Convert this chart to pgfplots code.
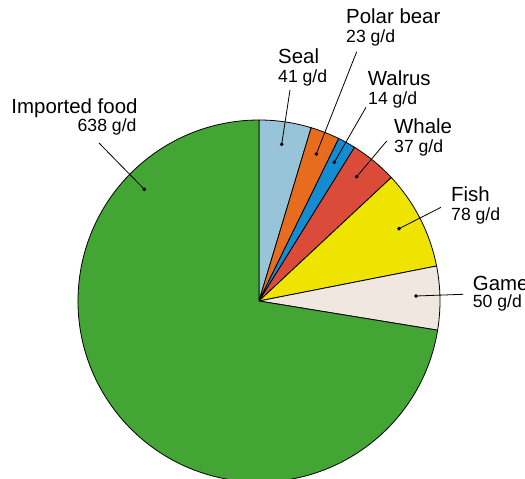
\documentclass[border=0pt]{standalone}
\usepackage{pgfplots}
\pgfplotsset{compat=1.18}
\usepackage{fontspec}
\setmainfont{Liberation Sans}

\definecolor{cseal}{HTML}{98C4DA}
\definecolor{cpolar}{HTML}{E86C1E}
\definecolor{cwalrus}{HTML}{148CD2}
\definecolor{cwhale}{HTML}{DA4B3A}
\definecolor{cfish}{HTML}{EEE400}
\definecolor{cgame}{HTML}{F0E8E0}
\definecolor{cimport}{HTML}{43A634}

% daily intake, g/d
\def\vSeal{41}
\def\vPolar{23}
\def\vWalrus{14}
\def\vWhale{37}
\def\vFish{78}
\def\vGame{50}
\def\vImport{638}

\pgfmathsetmacro{\tot}{\vSeal+\vPolar+\vWalrus+\vWhale+\vFish+\vGame+\vImport}
\pgfmathsetmacro{\aA}{90}
\pgfmathsetmacro{\aB}{\aA-\vSeal/\tot*360}
\pgfmathsetmacro{\aC}{\aB-\vPolar/\tot*360}
\pgfmathsetmacro{\aD}{\aC-\vWalrus/\tot*360}
\pgfmathsetmacro{\aE}{\aD-\vWhale/\tot*360}
\pgfmathsetmacro{\aF}{\aE-\vFish/\tot*360}
\pgfmathsetmacro{\aG}{\aF-\vGame/\tot*360}
\pgfmathsetmacro{\aH}{\aG-\vImport/\tot*360}
\def\R{181bp}

\newcommand{\namefont}{\fontsize{20.5}{21}\selectfont}
\newcommand{\valfont}{\fontsize{17.7}{18}\selectfont}

\begin{document}
\begin{tikzpicture}
\useasboundingbox (0,0) rectangle (525bp,479bp);
\clip (0,0) rectangle (525bp,479bp);
\begin{axis}[
  anchor=south west, at={(0,0)},
  x=1bp, y=1bp,
  xmin=-259, xmax=266,
  ymin=-178, ymax=301,
  hide axis,
  ]
  \filldraw[fill=cseal, draw=black, line width=0.8bp] (axis cs:0,0) -- ++(\aA:\R) arc[start angle=\aA, end angle=\aB, radius=\R] -- cycle;
  \filldraw[fill=cpolar, draw=black, line width=0.8bp] (axis cs:0,0) -- ++(\aB:\R) arc[start angle=\aB, end angle=\aC, radius=\R] -- cycle;
  \filldraw[fill=cwalrus, draw=black, line width=0.8bp] (axis cs:0,0) -- ++(\aC:\R) arc[start angle=\aC, end angle=\aD, radius=\R] -- cycle;
  \filldraw[fill=cwhale, draw=black, line width=0.8bp] (axis cs:0,0) -- ++(\aD:\R) arc[start angle=\aD, end angle=\aE, radius=\R] -- cycle;
  \filldraw[fill=cfish, draw=black, line width=0.8bp] (axis cs:0,0) -- ++(\aE:\R) arc[start angle=\aE, end angle=\aF, radius=\R] -- cycle;
  \filldraw[fill=cgame, draw=black, line width=0.8bp] (axis cs:0,0) -- ++(\aF:\R) arc[start angle=\aF, end angle=\aG, radius=\R] -- cycle;
  \filldraw[fill=cimport, draw=black, line width=0.8bp] (axis cs:0,0) -- ++(\aG:\R) arc[start angle=\aG, end angle=\aH, radius=\R] -- cycle;

  % leader lines
  \draw[line width=0.8bp] (axis cs:31,211) -- (axis cs:22.7,156.7);
  \draw[line width=0.8bp] (axis cs:97.7,249.3) -- (axis cs:57.3,147);
  \draw[line width=0.8bp] (axis cs:107,193.7) -- (axis cs:75.3,138.7);
  \draw[line width=0.8bp] (axis cs:127.7,160) -- (axis cs:97.7,124.3);
  \draw[line width=0.8bp] (axis cs:182,93.7) -- (axis cs:140,72.3);
  \draw[line width=0.8bp] (axis cs:204.3,6.7) -- (axis cs:157,5);
  \draw[line width=0.8bp] (axis cs:-160,158) -- (axis cs:-114.7,111.7);
  \addplot[only marks, mark=*, mark size=1.7bp, black] coordinates {
    (22.7,156.7) (57.3,147) (75.3,138.7) (97.7,124.3)
    (140,72.3) (157,5) (-114.7,111.7)};

  % labels
  \node[anchor=base west, inner sep=0pt, font=\namefont] at (axis cs:19,237) {Seal};
  \node[anchor=base west, inner sep=0pt, font=\valfont] at (axis cs:19,218) {41 g/d};
  \node[anchor=base west, inner sep=0pt, font=\namefont] at (axis cs:87,277) {Polar bear};
  \node[anchor=base west, inner sep=0pt, font=\valfont] at (axis cs:87,258.3) {23 g/d};
  \node[anchor=base west, inner sep=0pt, font=\namefont] at (axis cs:108.7,215) {Walrus};
  \node[anchor=base west, inner sep=0pt, font=\valfont] at (axis cs:109,197) {14 g/d};
  \node[anchor=base west, inner sep=0pt, font=\namefont] at (axis cs:135,168) {Whale};
  \node[anchor=base west, inner sep=0pt, font=\valfont] at (axis cs:135,149) {37 g/d};
  \node[anchor=base west, inner sep=0pt, font=\namefont] at (axis cs:192,99.3) {Fish};
  \node[anchor=base west, inner sep=0pt, font=\valfont] at (axis cs:192,81) {78 g/d};
  \node[anchor=base west, inner sep=0pt, font=\namefont] at (axis cs:213.7,11) {Game};
  \node[anchor=base west, inner sep=0pt, font=\valfont] at (axis cs:213.7,-6) {50 g/d};
  \node[anchor=base east, inner sep=0pt, font=\namefont] at (axis cs:-121.3,188) {Imported food};
  \node[anchor=base east, inner sep=0pt, font=\valfont] at (axis cs:-122.3,169.3) {638 g/d};
\end{axis}
\end{tikzpicture}
\end{document}
